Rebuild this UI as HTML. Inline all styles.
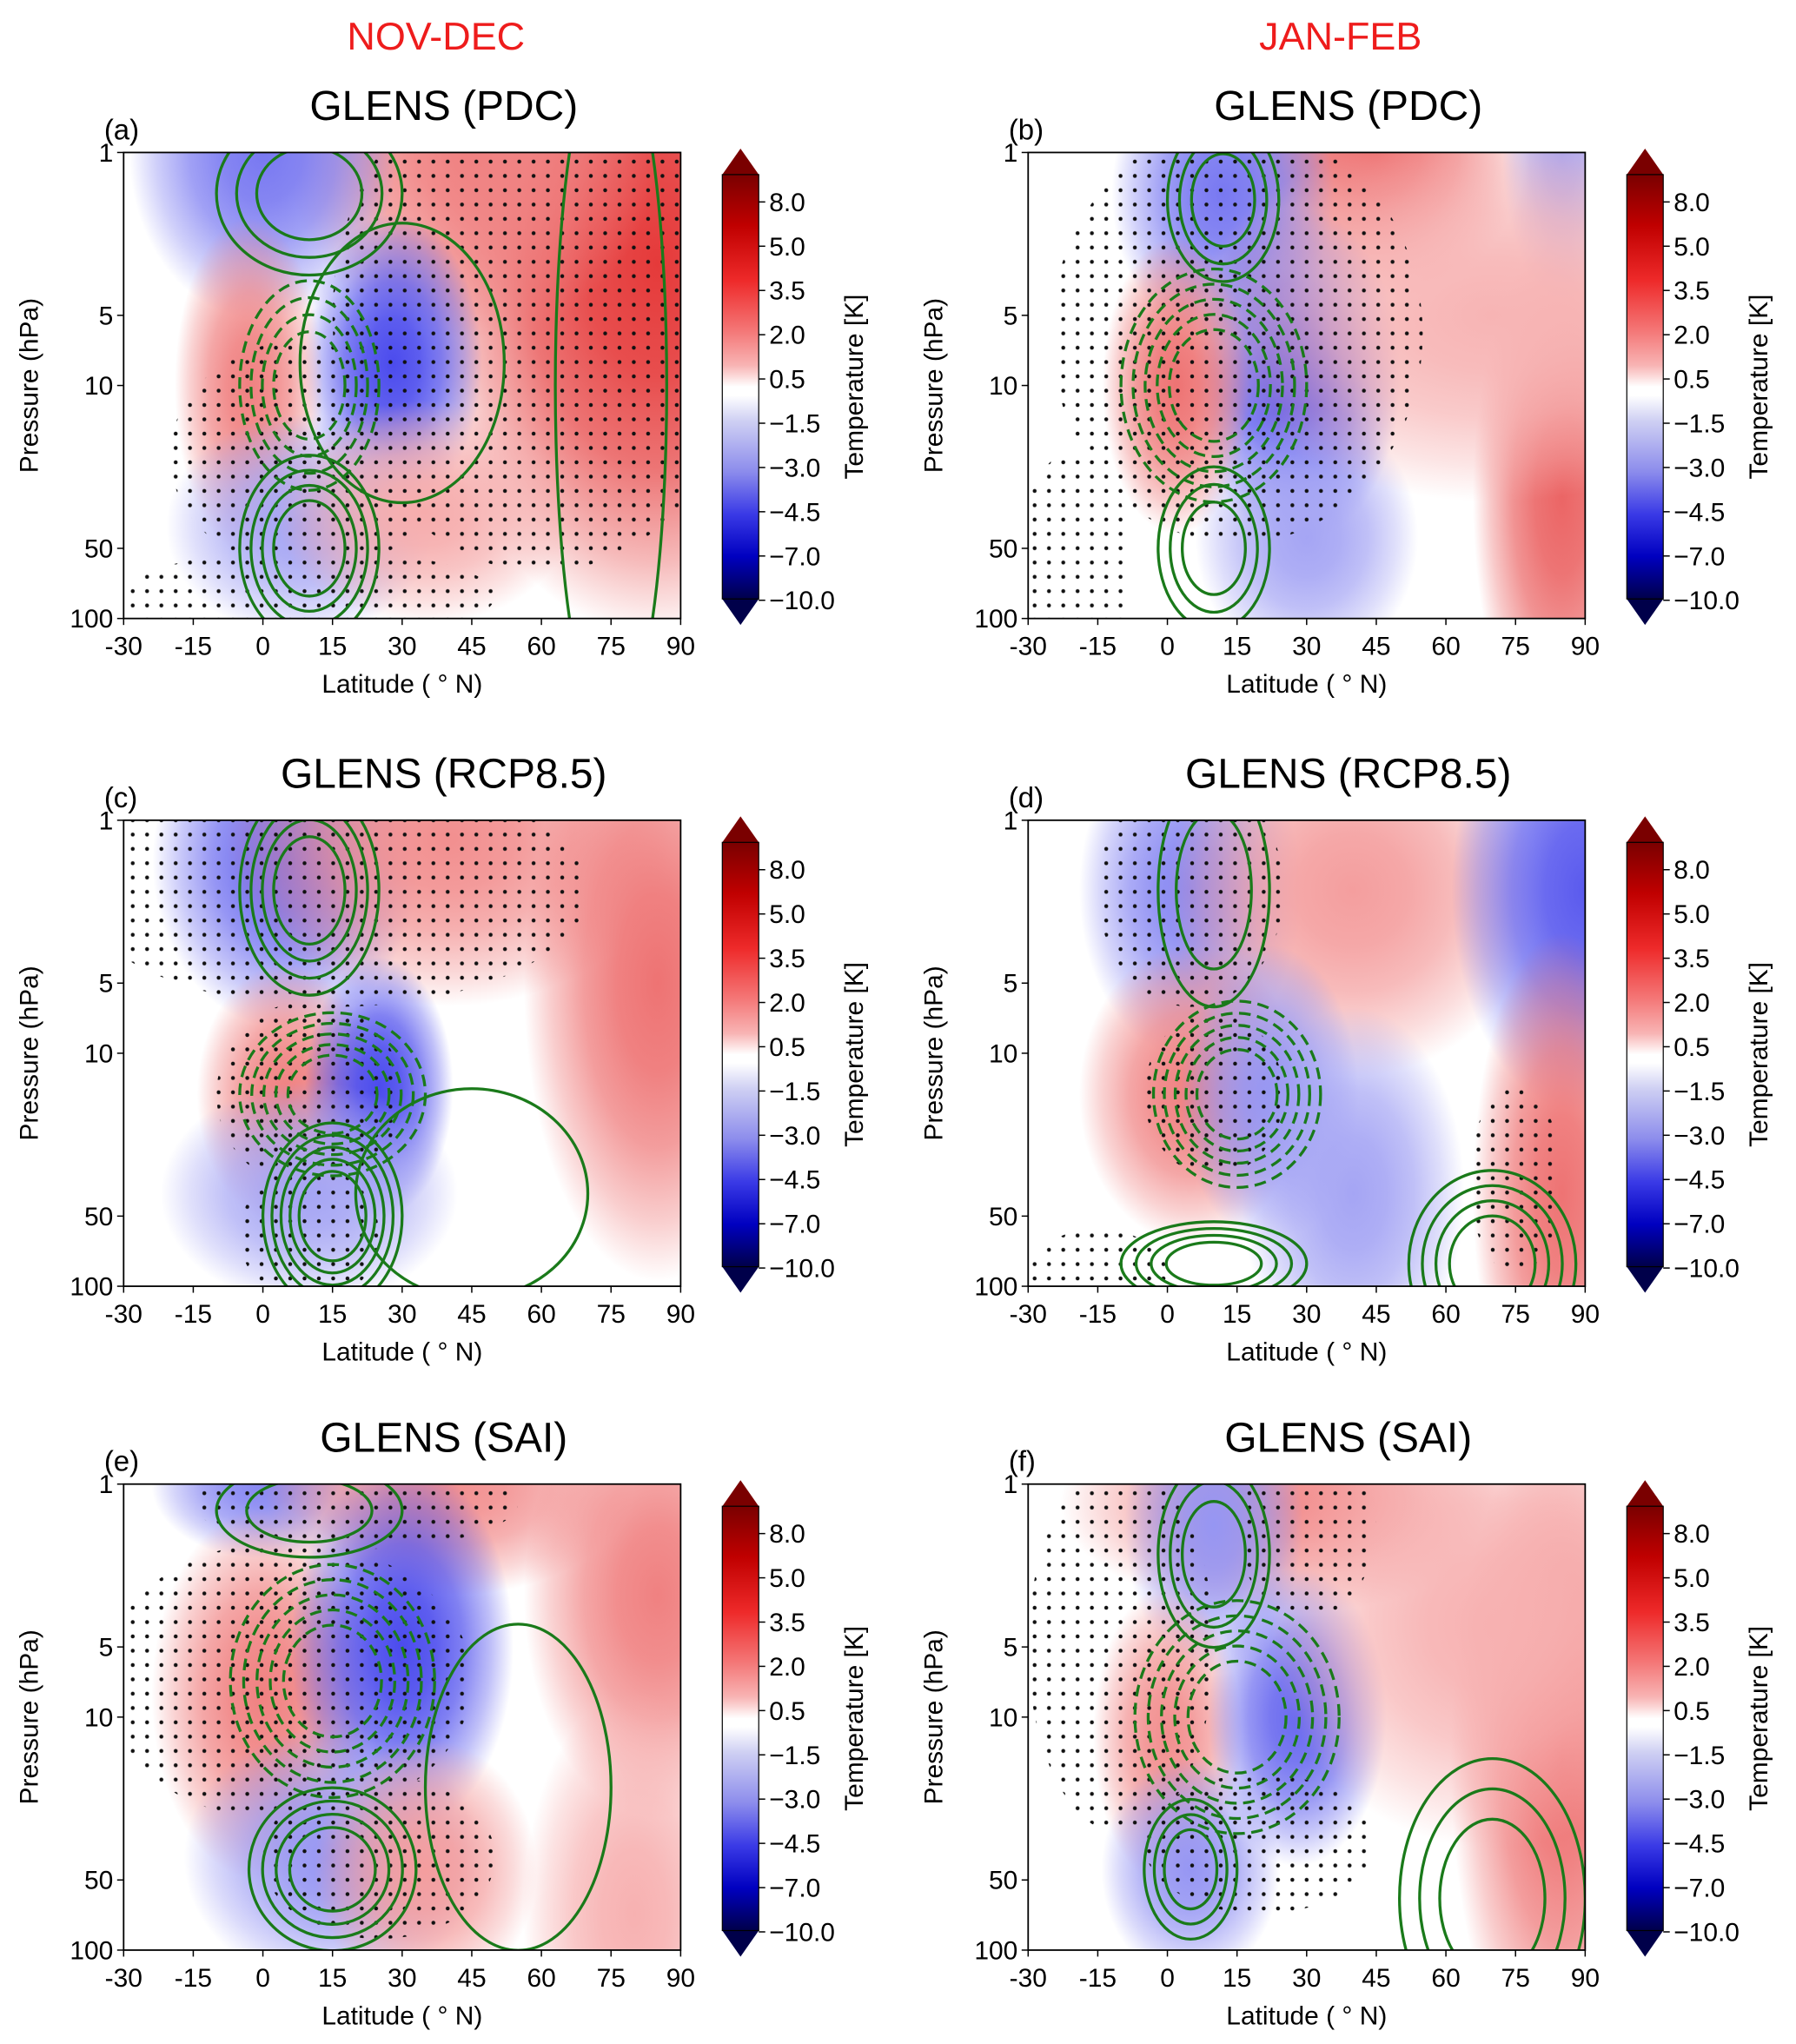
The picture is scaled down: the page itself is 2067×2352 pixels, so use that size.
<!DOCTYPE html>
<html><head><meta charset="utf-8"><style>
html,body{margin:0;padding:0;background:#fff;}
svg{display:block;font-family:"Liberation Sans","DejaVu Sans",sans-serif;}
</style></head><body>
<svg id="fig" width="2067" height="2352" viewBox="0 0 1380 1570" xmlns="http://www.w3.org/2000/svg">
<defs>
<pattern id="dots" width="11" height="11" patternUnits="userSpaceOnUse"><circle cx="3" cy="3" r="1.5" fill="#111"/></pattern>
<linearGradient id="cbar" x1="0" y1="0" x2="0" y2="1">
<stop offset="0" stop-color="#7a0000"/><stop offset="0.12" stop-color="#c00000"/><stop offset="0.25" stop-color="#ee2a2a"/><stop offset="0.37" stop-color="#f47878"/><stop offset="0.45" stop-color="#f8b4b4"/><stop offset="0.5" stop-color="#fff"/><stop offset="0.52" stop-color="#fff"/><stop offset="0.58" stop-color="#cfd0f3"/><stop offset="0.7" stop-color="#8c8cec"/><stop offset="0.8" stop-color="#3a3ae6"/><stop offset="0.9" stop-color="#0000c0"/><stop offset="1" stop-color="#00004a"/>
</linearGradient>
</defs>
</svg>
<script>
const NS='http://www.w3.org/2000/svg';
const svg=document.getElementById('fig');
const defs=svg.querySelector('defs');
// ---- data ----
const latTicks=[-30,-15,0,15,30,45,60,75,90];
const presTicks=[1,5,10,50,100];
const cbarTicks=['8.0','5.0','3.5','2.0','0.5','\u22121.5','\u22123.0','\u22124.5','\u22127.0','\u221210.0'];
const colHeaders=['NOV-DEC','JAN-FEB'];
const panelTitles=['GLENS (PDC)','GLENS (PDC)','GLENS (RCP8.5)','GLENS (RCP8.5)','GLENS (SAI)','GLENS (SAI)'];
const panelLetters=['(a)','(b)','(c)','(d)','(e)','(f)'];
// temperature blobs: [lat, pressure, amplitude K, lat half-width deg, log10 half-width]
const tempA=[[85,3,5,32,1.0],[45,1,2.5,25,0.5],[0,1,-3,18,0.45],[28,8,-4.5,12,0.4],[-3,10,2.5,10,0.45],[8,40,-1.5,18,0.3],[35,35,1,20,0.3]];
const tempB=[[45,1,3,20,0.4],[12,1.5,-3,15,0.4],[28,9,-4.5,14,0.45],[2,10,3,10,0.4],[85,30,3.5,12,0.7],[85,1,-1.5,8,0.4],[30,45,-1.5,15,0.35],[70,5,0.7,40,0.5]];
const tempC=[[5,1.5,-3.5,18,0.45],[40,1.2,2,30,0.45],[85,5,3,18,0.8],[5,15,2.5,12,0.35],[25,14,-4.5,10,0.35],[10,40,-1.5,20,0.3]];
const tempD=[[5,2,-2.5,15,0.45],[40,2,1.5,25,0.5],[90,2,-4,18,0.6],[5,15,2.5,15,0.4],[22,15,-2,12,0.4],[40,40,-1.5,15,0.5],[85,40,3,12,0.7]];
const tempE=[[0,1,-2.5,15,0.2],[40,1,2,25,0.3],[85,3,2.5,18,0.6],[0,8,2.5,15,0.5],[30,5,-4.5,15,0.5],[15,40,-2,20,0.35],[35,45,1.5,15,0.35],[80,70,0.8,15,0.6]];
const tempF=[[25,1.2,2,30,0.3],[10,1.5,-2,12,0.4],[85,15,3,15,0.9],[0,12,2,10,0.4],[28,10,-3.5,12,0.4],[5,45,-2,12,0.3],[70,4,0.8,30,0.6]];
// wind contour families: [lat, pressure, lat half-width, log half-width, count, dashed(1)]
const windA=[[10,10,15,0.45,4,1],[30,8,22,0.6,1,0],[10,50,15,0.4,4,0],[10,1.5,20,0.35,3,0],[75,10,12,1.5,1,0]];
const windB=[[10,10,20,0.5,5,1],[12,1.6,12,0.35,3,0],[10,50,12,0.35,3,0]];
const windC=[[15,15,20,0.35,5,1],[10,2,15,0.45,4,0],[15,50,15,0.4,5,0],[45,40,25,0.45,1,0]];
const windD=[[15,15,18,0.4,5,1],[10,2,12,0.5,2,0],[10,80,20,0.18,4,0],[70,80,18,0.4,4,0]];
const windE=[[15,7,22,0.5,5,1],[10,1.3,20,0.2,2,0],[15,45,18,0.35,4,0],[55,20,20,0.7,1,0]];
const windF=[[15,10,22,0.5,5,1],[10,2,12,0.4,3,0],[5,45,10,0.3,3,0],[70,60,20,0.6,3,0]];
// significance (stippling) regions: [lat, pressure, lat half-width, log half-width]
const sigA=[[60,5,45,1.1],[10,20,30,0.5],[10,80,40,0.2]];
const sigB=[[15,6,40,0.9],[-20,60,12,0.5]];
const sigC=[[15,2,55,0.5],[10,15,20,0.4],[10,60,15,0.3]];
const sigD=[[5,2,20,0.5],[10,15,15,0.35],[-15,90,15,0.2],[75,35,10,0.4]];
const sigE=[[5,7,40,0.6],[20,1.2,35,0.2],[25,40,25,0.35]];
const sigF=[[-10,5,20,0.8],[20,35,25,0.3],[30,1.5,15,0.4]];
const temps=[tempA,tempB,tempC,tempD,tempE,tempF];
const winds=[windA,windB,windC,windD,windE,windF];
const sigs=[sigA,sigB,sigC,sigD,sigE,sigF];
// ---- layout ----
const colX=[95,790], rowY=[117,630,1140], PW=428, PH=358;
function mk(tag,attrs,parent){const e=document.createElementNS(NS,tag);for(const k in attrs)e.setAttribute(k,attrs[k]);(parent||svg).appendChild(e);return e;}
function txt(s,x,y,size,attrs,parent){const t=mk('text',Object.assign({x:x,y:y,'font-size':size},attrs||{}),parent);t.textContent=s;return t;}
function colorFor(a){
  const m=Math.min(Math.abs(a)/6,1);
  if(a>0){return `rgb(${Math.round(250-25*m)},${Math.round(200-170*m)},${Math.round(200-170*m)})`;}
  return `rgb(${Math.round(210-180*m)},${Math.round(210-180*m)},${Math.round(248-15*m)})`;
}
colHeaders.forEach((h,i)=>{
  const t=txt(h,colX[i]+240,38,30,{'text-anchor':'middle',fill:'#ee1c1c'});
  
  
});
for(let p=0;p<6;p++){
  const col=p%2,row=Math.floor(p/2);
  const X0=colX[col],Y0=rowY[row];
  const xs=lat=>X0+(lat+30)/120*PW;
  const ys=pr=>Y0+Math.log10(pr)/2*PH;
  const g=mk('g',{});
  
  
  const cp=mk('clipPath',{id:'clip'+p},defs);mk('rect',{x:X0,y:Y0,width:PW,height:PH},cp);
  const plot=mk('g',{'clip-path':`url(#clip${p})`},g);
  
  
  mk('rect',{x:X0,y:Y0,width:PW,height:PH,fill:'#fff'},plot);
  temps[p].forEach((b,i)=>{
    const id=`tg${p}_${i}`;const rg=mk('radialGradient',{id:id},defs);const c=colorFor(b[2]);
    [[0,1],[0.3,0.9],[0.55,0.7],[0.8,0.35],[1,0]].forEach(s=>mk('stop',{offset:s[0],'stop-color':c,'stop-opacity':s[1]},rg));
    const e=mk('ellipse',{cx:xs(b[0]),cy:ys(b[1]),rx:b[3]*PW/120*1.6,ry:b[4]*PH/2*1.6,fill:`url(#${id})`},plot);
    
    
  });
  const sc=mk('clipPath',{id:'sig'+p},defs);
  sigs[p].forEach(s=>mk('ellipse',{cx:xs(s[0]),cy:ys(s[1]),rx:s[2]*PW/120,ry:s[3]*PH/2},sc));
  const st=mk('rect',{x:X0,y:Y0,width:PW,height:PH,fill:'url(#dots)','clip-path':`url(#sig${p})`},plot);
  
  
  winds[p].forEach(w=>{
    for(let k=1;k<=w[4];k++){
      const f=k/w[4];
      const e=mk('ellipse',{cx:xs(w[0]),cy:ys(w[1]),rx:w[2]*PW/120*(0.35+0.65*f),ry:w[3]*PH/2*(0.35+0.65*f),fill:'none',stroke:'#1a7a1a','stroke-width':2.2,'stroke-dasharray':w[5]?'9 5':'none'},plot);
      
      
    }
  });
  const fr=mk('rect',{x:X0,y:Y0,width:PW,height:PH,fill:'none',stroke:'#000','stroke-width':1.2},g);
  
  
  latTicks.forEach(l=>{
    mk('line',{x1:xs(l),x2:xs(l),y1:Y0+PH,y2:Y0+PH+5,stroke:'#000'},g);
    const t=txt(String(l),xs(l),Y0+PH+28,20,{'text-anchor':'middle'},g);
    
    
  });
  presTicks.forEach(pr=>{
    mk('line',{x1:X0-5,x2:X0,y1:ys(pr),y2:ys(pr),stroke:'#000'},g);
    const t=txt(String(pr),X0-8,ys(pr)+7,20,{'text-anchor':'end'},g);
    
    
  });
  const xl=txt('Latitude ( \u00b0 N)',X0+PW/2,Y0+PH+57,20,{'text-anchor':'middle'},g);
  
  
  const yl=txt('Pressure (hPa)',0,0,20,{'text-anchor':'middle',transform:`translate(${X0-66},${Y0+PH/2}) rotate(-90)`},g);
  
  
  const ti=txt(panelTitles[p],X0+PW/2+32,Y0-25,32,{'text-anchor':'middle'},g);
  
  
  const le=txt(panelLetters[p],X0-15,Y0-10,22,{},g);
  
  
  // colorbar
  const cx=X0+460,cw=28,ct=Y0+17,cb=Y0+343;
  const cbg=mk('g',{},g);
  
  
  mk('polygon',{points:`${cx},${ct} ${cx+cw/2},${ct-20} ${cx+cw},${ct}`,fill:'#7a0000'},cbg);
  mk('polygon',{points:`${cx},${cb} ${cx+cw/2},${cb+20} ${cx+cw},${cb}`,fill:'#00004a'},cbg);
  mk('rect',{x:cx,y:ct,width:cw,height:cb-ct,fill:'url(#cbar)',stroke:'#000','stroke-width':0.8},cbg);
  cbarTicks.forEach((s,i)=>{
    const yy=Y0+38+i*34;
    mk('line',{x1:cx+cw,x2:cx+cw+5,y1:yy,y2:yy,stroke:'#000'},cbg);
    const t=txt(s,cx+cw+8,yy+7,20,{},cbg);
    
    
  });
  const cl=txt('Temperature [K]',0,0,20,{'text-anchor':'middle',transform:`translate(${cx+cw+80},${(ct+cb)/2}) rotate(-90)`},cbg);
  
  
}
</script>
</body></html>
